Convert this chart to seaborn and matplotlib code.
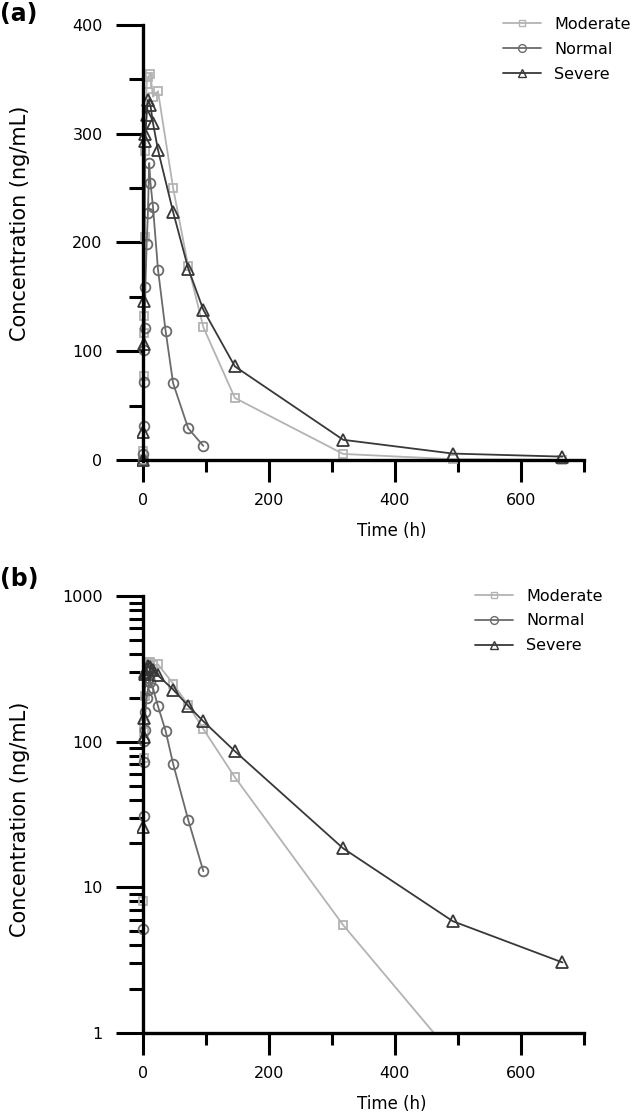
import numpy as np
import pandas as pd
import seaborn as sns
import matplotlib.pyplot as plt
import matplotlib.ticker as ticker

sns.set_style('ticks')
plt.rcParams['font.family'] = ['DejaVu Sans']
plt.rcParams['text.color'] = 'black'
plt.rcParams['axes.labelcolor'] = 'black'
plt.rcParams['axes.edgecolor'] = 'black'
plt.rcParams['xtick.color'] = 'black'
plt.rcParams['ytick.color'] = 'black'

# data (time in h, concentration in ng/mL)
time_moderate = [0, 0.5, 1, 1.5, 2, 3, 4, 6, 8, 12, 16, 24, 48, 72, 96, 146, 318, 492, 666]
conc_moderate = [0, 8, 77, 117, 132, 205, 284, 346, 352, 355, 334, 339, 250, 178, 122, 57, 5.5, 0.7, 0.1]

time_normal = [0, 0.5, 1, 1.5, 2, 3, 4, 6, 8, 10, 12, 16, 24, 36, 48, 72, 96]
conc_normal = [0, 5.2, 31, 72, 101, 121, 159, 199, 227, 273, 255, 233, 175, 119, 70.5, 29, 12.9]

time_severe = [0, 0.5, 1, 2, 3, 4, 6, 8, 12, 16, 24, 48, 72, 96, 146, 318, 492, 666]
conc_severe = [0, 26, 107, 146, 293, 300, 317, 331, 326, 310, 285, 228, 176, 138, 86, 18.5, 5.85, 3.05]

groups = ['Moderate', 'Normal', 'Severe']
colors = {'Moderate': '#b3b3b3', 'Normal': '#6b6b6b', 'Severe': '#383838'}
markers = {'Moderate': 's', 'Normal': 'o', 'Severe': '^'}
msizes = {'Moderate': 6, 'Normal': 7, 'Severe': 8}

df = pd.concat([
    pd.DataFrame({'Time': time_moderate, 'Conc': conc_moderate, 'Group': 'Moderate'}),
    pd.DataFrame({'Time': time_normal, 'Conc': conc_normal, 'Group': 'Normal'}),
    pd.DataFrame({'Time': time_severe, 'Conc': conc_severe, 'Group': 'Severe'}),
], ignore_index=True)

fig = plt.figure(figsize=(6.32, 11.13), dpi=100)
ax1 = fig.add_axes([0.2161, 0.5809, 0.7078, 0.3967])
ax2 = fig.add_axes([0.2161, 0.0719, 0.7078, 0.3926])


def draw(ax, data, legend_xy):
    sns.lineplot(data=data, x='Time', y='Conc', hue='Group', style='Group',
                 hue_order=groups, style_order=groups, markers=markers,
                 dashes=False, palette=colors, estimator=None, legend=False,
                 ax=ax, lw=1.3)
    for line, g in zip(ax.get_lines(), groups):
        line.set_markerfacecolor('none')
        line.set_markeredgecolor(colors[g])
        line.set_markeredgewidth(1.3)
        line.set_markersize(msizes[g])
    leg = ax.legend(ax.get_lines()[:3], groups, frameon=False, loc='upper left',
                    bbox_to_anchor=legend_xy, bbox_transform=fig.transFigure,
                    borderpad=0, borderaxespad=0, handlelength=2.4,
                    handletextpad=0.8, labelspacing=0.62, fontsize=11.5,
                    markerscale=0.8)
    for h in leg.legend_handles:
        h.set_markerfacecolor('none')
        h.set_markeredgewidth(1.0)
    ax.set_xlim(-10, 700)
    ax.xaxis.set_major_locator(ticker.FixedLocator([0, 200, 400, 600]))
    ax.xaxis.set_minor_locator(ticker.FixedLocator([100, 300, 500, 700]))
    for s in ['top', 'right']:
        ax.spines[s].set_visible(False)
    for s in ['left', 'bottom']:
        ax.spines[s].set_linewidth(2.4)
    ax.spines['left'].set_position(('data', 0))
    ax.spines['bottom'].set_bounds(0, 700)
    ax.tick_params(axis='y', which='major', length=19.5, width=2.2, pad=9.5, labelsize=11.5)
    ax.tick_params(axis='y', which='minor', length=10, width=2.2)
    ax.tick_params(axis='x', which='major', length=16, width=2.2, pad=8, labelsize=11.5)
    ax.tick_params(axis='x', which='minor', length=8.6, width=2.2)
    ax.set_xlabel('Time (h)', fontsize=12)
    ax.set_ylabel('Concentration (ng/mL)', fontsize=15)


# (a) linear
draw(ax1, df, (0.796, 0.985))
ax1.set_ylim(-6, 400)
ax1.spines['bottom'].set_position(('data', 0))
ax1.spines['left'].set_bounds(0, 400)
ax1.yaxis.set_major_locator(ticker.FixedLocator([0, 100, 200, 300, 400]))
ax1.yaxis.set_minor_locator(ticker.FixedLocator([50, 150, 250, 350]))
ax1.xaxis.set_label_coords(0.57, -0.1257)
ax1.yaxis.set_label_coords(-0.238, 0.55)

# (b) log
ax2.set_yscale('log')
draw(ax2, df[df['Conc'] > 0], (0.7516, 0.4712))
ax2.set_ylim(1, 1000)
ax2.yaxis.set_major_locator(ticker.FixedLocator([1, 10, 100, 1000]))
ax2.yaxis.set_major_formatter(ticker.FuncFormatter(lambda v, p: f'{v:g}'))
ax2.yaxis.set_minor_locator(ticker.LogLocator(base=10, subs=np.arange(2, 10)))
ax2.yaxis.set_minor_formatter(ticker.NullFormatter())
ax2.xaxis.set_label_coords(0.57, -0.1419)
ax2.yaxis.set_label_coords(-0.238, 0.49)

fig.text(0.0, 1 - 2 / 1113, '(a)', fontsize=17, fontweight='bold', va='top', ha='left')
fig.text(0.0, 1 - 567 / 1113, '(b)', fontsize=17, fontweight='bold', va='top', ha='left')

plt.savefig('out.png', dpi=100)
